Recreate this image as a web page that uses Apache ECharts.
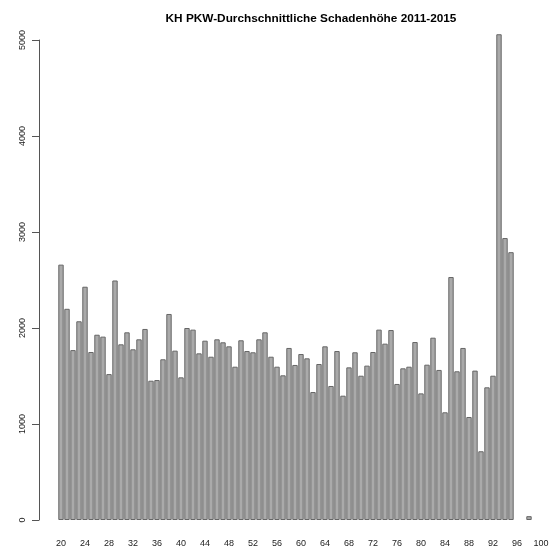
<!DOCTYPE html>
<html>
<head>
<meta charset="utf-8">
<script src="https://cdn.jsdelivr.net/npm/echarts@6/dist/echarts.min.js"></script>
<style>
html,body{margin:0;padding:0;background:#fff;}
#chart{width:555px;height:553px;}
</style>
</head>
<body>
<div id="chart"></div>
<script>
const titleText = "KH PKW-Durchschnittliche Schadenhöhe 2011-2015";
const ages = ["20","21","22","23","24","25","26","27","28","29",
  "30","31","32","33","34","35","36","37","38","39",
  "40","41","42","43","44","45","46","47","48","49",
  "50","51","52","53","54","55","56","57","58","59",
  "60","61","62","63","64","65","66","67","68","69",
  "70","71","72","73","74","75","76","77","78","79",
  "80","81","82","83","84","85","86","87","88","89",
  "90","91","92","93","94","95","96","97","98","99","100"];
const schaden = [2660,2200,1770,2070,2430,1750,1930,1910,1520,2495,
  1830,1955,1778,1882,1990,1451,1458,1674,2146,1764,
  1486,2000,1983,1736,1868,1701,1882,1851,1809,1597,
  1872,1760,1747,1882,1955,1701,1597,1507,1792,1615,
  1729,1684,1333,1625,1809,1396,1760,1295,1590,1747,
  1503,1608,1750,1983,1837,1979,1417,1580,1597,1854,
  1319,1618,1899,1563,1122,2531,1549,1792,1073,1556,
  716,1382,1503,5060,2937,2790,null,null,40,null,null];
const yTicks = [0,1000,2000,3000,4000,5000];

const chart = echarts.init(document.getElementById('chart'), null, {renderer:'canvas'});
chart.setOption({
  animation:false,
  backgroundColor:'#ffffff',
  title:{
    text:titleText, left:306, top:8, textAlign:'center',
    textStyle:{fontFamily:'Liberation Sans, Arial, sans-serif', fontWeight:'bold', fontSize:11.8, color:'#000'}
  },
  grid:{left:58, width:486, top:40, height:480},
  xAxis:{
    type:'category', data:ages, boundaryGap:true,
    axisLine:{show:false}, axisTick:{show:false},
    axisLabel:{interval:3, margin:19, fontSize:9, color:'#222', fontFamily:'Liberation Sans, Arial, sans-serif'},
    splitLine:{show:false}
  },
  yAxis:{
    type:'value', min:yTicks[0], max:yTicks[yTicks.length-1], interval:1000, offset:19,
    axisLine:{show:true, lineStyle:{color:'#555', width:1}},
    axisTick:{show:true, length:7, lineStyle:{color:'#555'}},
    axisLabel:{rotate:90, margin:12, fontSize:9, color:'#222', fontFamily:'Liberation Sans, Arial, sans-serif',
      formatter:function(v){return String(v);}},
    splitLine:{show:false}
  },
  series:[{
    type:'bar', data:schaden, barWidth:5.4, clip:false,
    itemStyle:{color:'#aaaaaa', borderColor:'#666666', borderWidth:1}
  }]
});
</script>
</body>
</html>
